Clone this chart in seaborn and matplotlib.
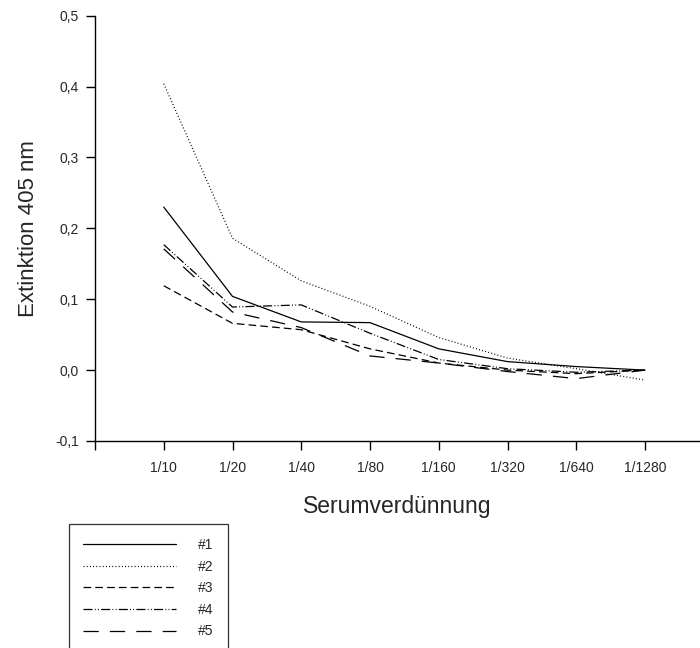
import matplotlib
matplotlib.use("Agg")
import matplotlib.pyplot as plt
import seaborn as sns
import pandas as pd
import numpy as np
from matplotlib.ticker import FuncFormatter
from matplotlib.lines import Line2D

dilutions = ["1/10", "1/20", "1/40", "1/80", "1/160", "1/320", "1/640", "1/1280"]
s1 = [0.230, 0.104, 0.068, 0.067, 0.030, 0.012, 0.005, 0.000]
s2 = [0.404, 0.186, 0.126, 0.090, 0.046, 0.017, 0.002, -0.014]
s3 = [0.119, 0.066, 0.057, 0.030, 0.010, 0.000, -0.005, 0.000]
s4 = [0.177, 0.089, 0.092, 0.052, 0.015, 0.002, -0.003, 0.000]
s5 = [0.171, 0.082, 0.060, 0.020, 0.010, -0.002, -0.012, 0.000]
series_names = ["#1", "#2", "#3", "#4", "#5"]
yticks = [-0.1, 0.0, 0.1, 0.2, 0.3, 0.4, 0.5]

df = pd.DataFrame({
    "dil": dilutions * 5,
    "ext": s1 + s2 + s3 + s4 + s5,
    "serie": [n for n in series_names for _ in dilutions],
})

sns.set_style("white")
plt.rcParams["font.family"] = ["Liberation Sans", "DejaVu Sans"]
plt.rcParams["lines.scale_dashes"] = False

fig = plt.figure(figsize=(7.0, 6.48), dpi=100)
ax = fig.add_axes([95 / 700, 207 / 648, 605 / 700, 425.3 / 648])

dash_map = {
    "#1": "",
    "#2": (0.7, 1.6),
    "#3": (5.5, 3.0),
    "#4": (6.5, 1.6, 0.7, 1.6, 0.7, 1.6),
    "#5": (11.0, 8.0),
}
sns.lineplot(data=df, x="dil", y="ext", style="serie", dashes=dash_map,
             color="black", linewidth=0.9, ax=ax, sort=False, legend=False)

ax.set_xlim(-1, 7.8)
ax.set_ylim(-0.1, 0.5)
ax.set_xticks([-1] + list(range(len(dilutions))))
ax.set_xticklabels([""] + dilutions, fontsize=10)
ax.set_yticks(yticks)
ax.yaxis.set_major_formatter(FuncFormatter(lambda v, p: f"{v:.1f}".replace(".", ",")))
ax.tick_params(axis="y", labelsize=10, pad=5)
ax.tick_params(axis="x", pad=8)
ax.tick_params(direction="out", length=6.5, width=1, color="black", bottom=True, left=True)
for side in ["top", "right"]:
    ax.spines[side].set_visible(False)
for side in ["left", "bottom"]:
    ax.spines[side].set_color("black")
    ax.spines[side].set_linewidth(1)

ax.set_xlabel("Serumverdünnung", fontsize=16.5, labelpad=14)
ax.set_ylabel("Extinktion 405 nm", fontsize=16, labelpad=12)

handles = [Line2D([], [], color="black", linewidth=0.9,
                  linestyle=("solid" if dash_map[n] == "" else (0, dash_map[n])))
           for n in series_names]
leg = fig.legend(handles, series_names, loc="upper left",
                 bbox_to_anchor=(69 / 700, 1 - 524 / 648),
                 bbox_transform=fig.transFigure, borderaxespad=0,
                 frameon=True, fancybox=False, fontsize=10,
                 handlelength=6.7, handletextpad=1.6, labelspacing=0.55,
                 borderpad=1.0)
leg.get_frame().set_edgecolor("black")
leg.get_frame().set_linewidth(0.9)

fig.savefig("out.png", dpi=100)
